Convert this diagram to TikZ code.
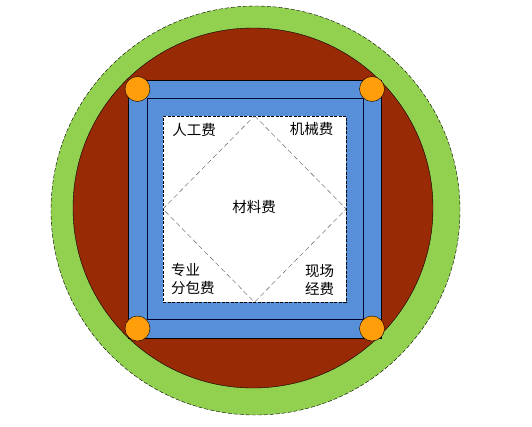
\documentclass[tikz,border=0pt]{standalone}
\usepackage{fontspec}
\newfontfamily\cjk{Noto Sans CJK SC}
\usepackage{tikz}
\usetikzlibrary{positioning}
\definecolor{ringgreen}{HTML}{92D050}
\definecolor{ringred}{HTML}{982A05}
\definecolor{frameblue}{HTML}{5790D8}
\definecolor{cornerorange}{HTML}{FF9D0A}
\tikzset{
  costtext/.style={font=\cjk\fontsize{14.5}{17.5}\selectfont, inner sep=0pt, align=left},
  cornerdot/.style={circle, draw=black, fill=cornerorange, minimum size=25pt, inner sep=0pt}
}

\begin{document}
\begin{tikzpicture}[x=1pt,y=-1pt]
\useasboundingbox (0,0) rectangle (532,426);

% Rings
\draw[fill=ringgreen, dash pattern=on 4pt off 2pt] (255.5,210.5) circle (204.5pt);
\draw[fill=ringred] (253,208) circle (180pt);

% Frame
\draw[fill=frameblue] (128,80) rectangle (381,338);
\draw[black!80!blue] (147,98) rectangle (363,319);
\node[draw, dash pattern=on 3pt off 1.5pt, fill=white, minimum width=183pt, minimum height=186pt, inner sep=0pt] (panel) at (254.5,209) {};

% Diamond
\draw[black!65, dash pattern=on 5pt off 3pt] (panel.north) -- (panel.east) -- (panel.south) -- (panel.west) -- cycle;

% Corners
\node[cornerdot] (tl) at (137.5,89) {};
\node[cornerdot] (tr) at (372,89) {};
\node[cornerdot] (bl) at (137.5,328.5) {};
\node[cornerdot] (br) at (372,328.5) {};

% Labels
\node[costtext] (labour) at (194,130) {人工费};
\node[costtext] (machine) at (311.5,129) {机械费};
\node[costtext] (material) at (254,207) {材料费};
\node[costtext, anchor=west] (subcontract) at (171,279) {专业\\分包费};
\node[costtext, anchor=west] (site) at (305,280) {现场\\经费};

\end{tikzpicture}
\end{document}
